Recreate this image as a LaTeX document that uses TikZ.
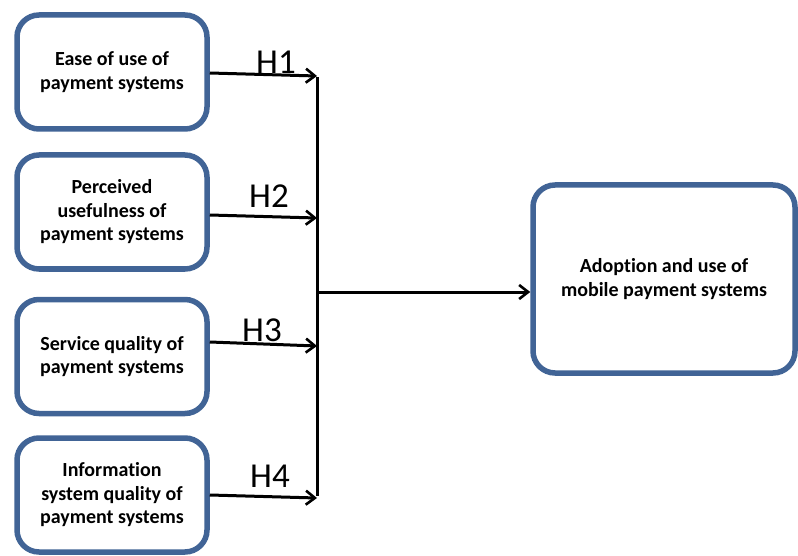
\documentclass[tikz,border=0pt]{standalone}
\usepackage{fontspec}
\setmainfont[Ligatures=NoCommon]{Carlito}
\usetikzlibrary{arrows.meta}
\definecolor{boxblue}{RGB}{65,100,150}
\tikzset{
  factor/.style={draw=boxblue, line width=5.5pt, rounded corners=22pt, fill=white,
    minimum width=190pt, minimum height=114pt, align=center,
    font=\fontsize{20}{23.5}\selectfont\bfseries, inner sep=0pt},
  arr/.style={line width=3pt, -{Straight Barb[length=9pt,width=14pt,line width=2.6pt]}},
  bar/.style={line width=3pt},
  hlab/.style={font=\fontsize{35}{35}\selectfont, inner sep=0pt}
}
\begin{document}
\begin{tikzpicture}[x=1pt,y=-1pt]
\useasboundingbox (0,0) rectangle (798,556);
\node[factor] (f1) at (112,72) {Ease of use of\\payment systems};
\node[factor] (f2) at (112,212) {Perceived\\usefulness of\\payment systems};
\node[factor] (f3) at (112,356.5) {Service quality of\\payment systems};
\node[factor] (f4) at (112,495) {Information\\system quality of\\payment systems};
\node[factor, minimum width=262pt, minimum height=188pt] (out) at (664,279) {Adoption and use of\\mobile payment systems};
\coordinate (t1) at (317,76);
\coordinate (t2) at (317,218);
\coordinate (t3) at (317,346);
\coordinate (t4) at (317,498);
\coordinate (mid) at (317,292);
\coordinate (s1) at (f1.east |- 0,73);
\coordinate (s2) at (f2.east |- 0,215);
\coordinate (s3) at (f3.east |- 0,342);
\coordinate (s4) at (f4.east |- 0,495);
\draw[arr] (s1) -- (t1);
\draw[arr] (s2) -- (t2);
\draw[arr] (s3) -- (t3);
\draw[arr] (s4) -- (t4);
\draw[bar] ([yshift=-1.5pt]t1) -- ([yshift=2pt]t4);
\draw[arr] (mid) -- (out.west |- mid);
\node[hlab] (h1) at (276,62) {H1};
\node[hlab] (h2) at (269,196) {H2};
\node[hlab] (h3) at (262,330) {H3};
\node[hlab] (h4) at (270,476) {H4};
\end{tikzpicture}
\end{document}
